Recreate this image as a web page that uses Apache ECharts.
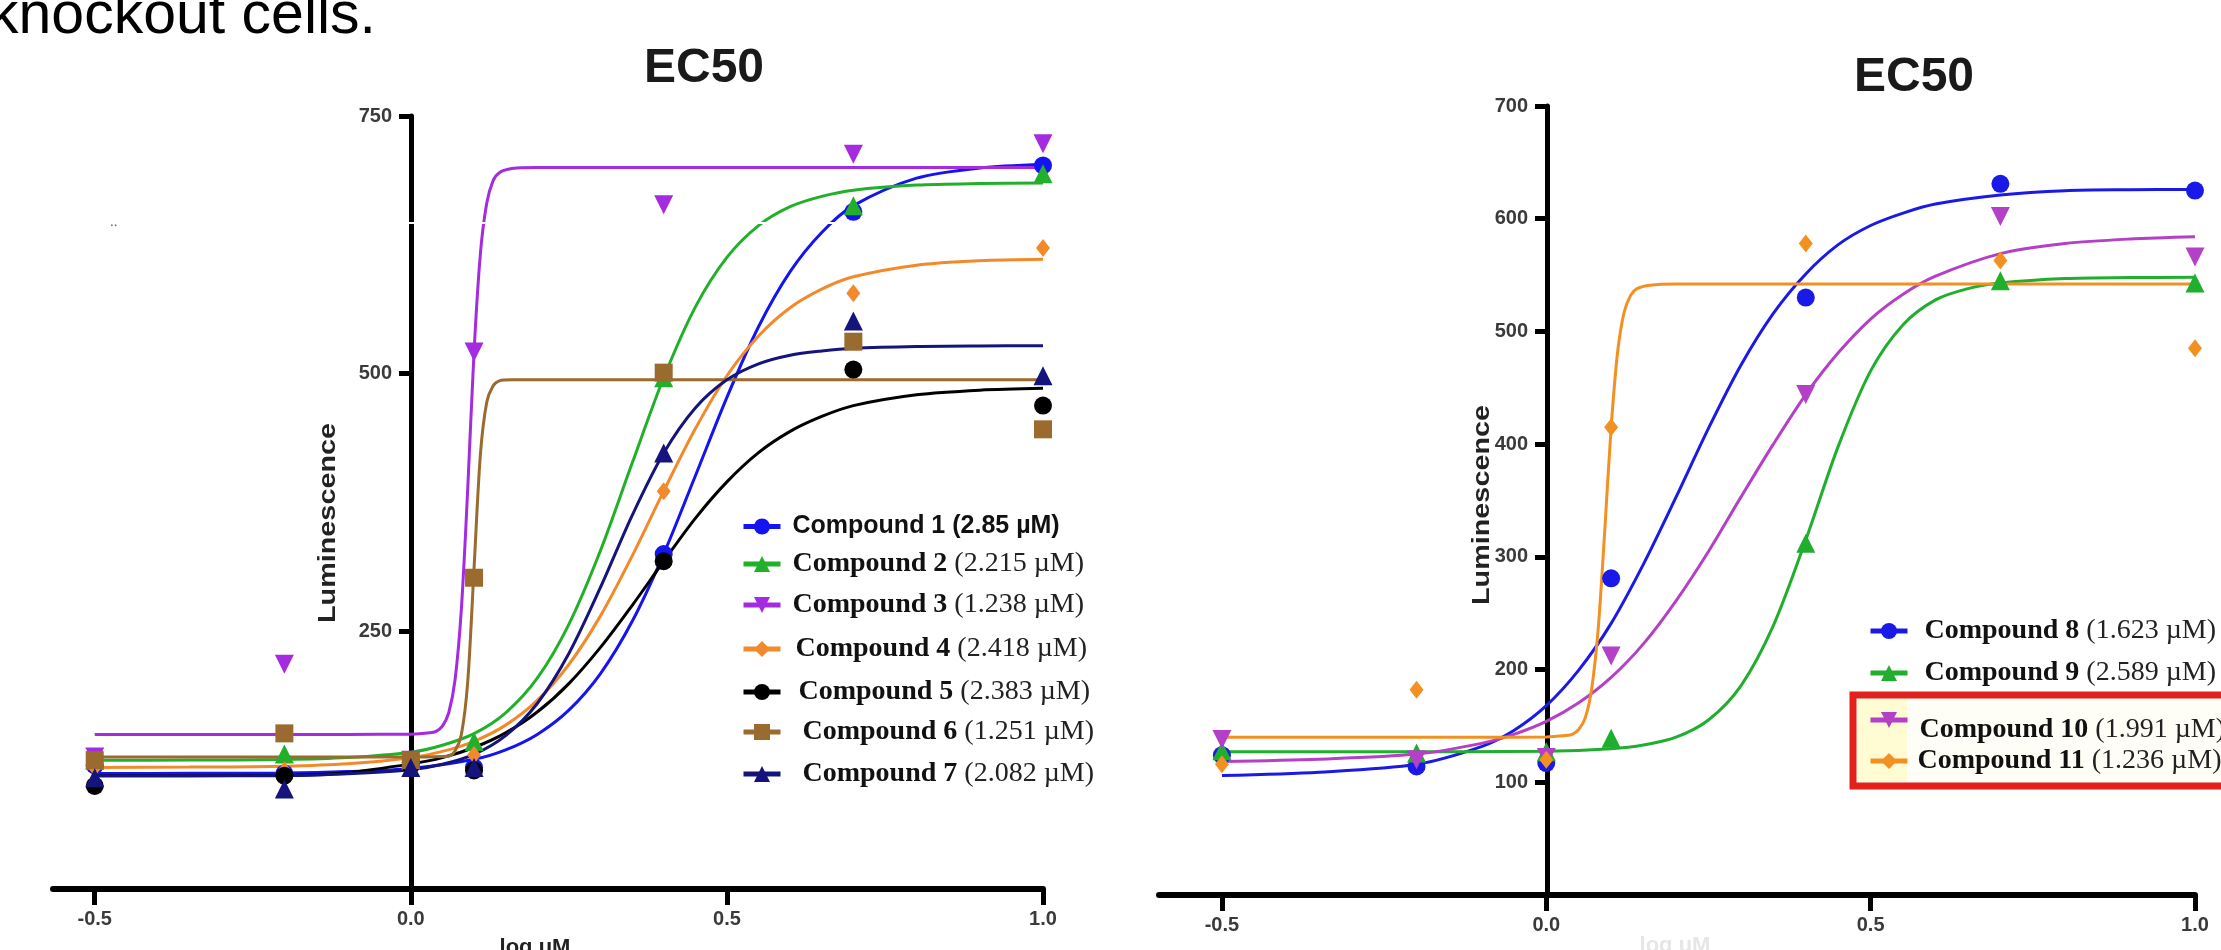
<!DOCTYPE html>
<html><head><meta charset="utf-8">
<script src="https://cdn.jsdelivr.net/npm/echarts@6/dist/echarts.min.js"></script>
<style>html,body{margin:0;padding:0;background:#fff}#c{width:2221px;height:950px}</style>
</head><body><div id="c"></div>
<script>
// ---------- data ----------
const doseX = [-0.5, -0.2, 0, 0.1, 0.4, 0.7, 1.0];
const xTicks = [-0.5, 0, 0.5, 1.0];
const leftYTicks = [250, 500, 750];
const rightYTicks = [100, 200, 300, 400, 500, 600, 700];

const leftNames = ['Compound 1', 'Compound 2', 'Compound 3', 'Compound 4', 'Compound 5', 'Compound 6', 'Compound 7'];
const leftEC50 = ['2.85', '2.215', '1.238', '2.418', '2.383', '1.251', '2.082'];
const rightNames = ['Compound 8', 'Compound 9', 'Compound 10', 'Compound 11'];
const rightEC50 = ['1.623', '2.589', '1.991', '1.236'];

// measured points (y at doseX)
const pts1 = [120, 112, 123, 118, 325, 657, 702];
const pts2 = [125, 131, 125, 143, 496, 663, 694];
const pts3 = [128, 218, 125, 521, 664, 713, 723];
const pts4 = [118, 115, 125, 130, 386, 578, 622];
const pts5 = [100, 110, 120, 115, 318, 504, 469];
const pts6 = [125, 151, 125, 302, 501, 531, 446];
const pts7 = [108, 97, 118, 118, 423, 551, 498];
const pts8 = [124, 114, 117, 281, 530, 631, 625];
const pts9 = [128, 126, 127, 139, 312, 545, 543];
const pts10 = [138, 120, 122, 212, 444, 602, 566];
const pts11 = [116, 182, 120, 415, 578, 563, 485];

// fitted curves: [logX, luminescence]
const curve1 = [[-0.5,112],[-0.35,112.2],[-0.2,112.6],[-0.1,114],[0,116.9],[0.1,125.8],[0.15,135],[0.2,150],[0.25,173.5],[0.3,209],[0.35,259.5],[0.4,325],[0.45,400.7],[0.5,477],[0.55,545.5],[0.6,599],[0.65,637],[0.7,663],[0.8,689.7],[0.9,699.6],[1.0,703]];
const curve2 = [[-0.5,125],[-0.35,125.1],[-0.2,125.6],[-0.1,127.5],[0,132.7],[0.05,139.5],[0.1,150.7],[0.15,170.9],[0.2,204.5],[0.25,256.8],[0.3,328.4],[0.35,413],[0.4,496],[0.45,564.6],[0.5,612.8],[0.55,643.7],[0.6,662],[0.65,672],[0.7,678],[0.8,683],[0.9,684.5],[1.0,685]];
const curve3 = [[-0.5,150],[-0.3,150],[-0.1,150],[0,150.2],[0.03,151.5],[0.04,153],[0.05,158],[0.06,171],[0.07,203],[0.08,272],[0.09,388],[0.1,521],[0.11,616],[0.12,665],[0.13,687],[0.14,695],[0.16,699],[0.2,700],[0.4,700],[0.7,700],[1.0,700]];
const curve4 = [[-0.5,118],[-0.35,118.3],[-0.2,119.2],[-0.1,121.5],[0,127.4],[0.05,133.5],[0.1,143.3],[0.15,159],[0.2,183],[0.25,217.8],[0.3,265],[0.35,323],[0.4,386],[0.45,446.5],[0.5,498],[0.55,536.6],[0.6,564],[0.65,582],[0.7,594],[0.8,605.3],[0.9,609.6],[1.0,611]];
const curve5 = [[-0.5,110],[-0.35,110],[-0.2,110.2],[-0.1,113],[0,121.4],[0.05,127.5],[0.1,137.3],[0.15,151.5],[0.2,171.7],[0.25,199.3],[0.3,234.4],[0.35,275],[0.4,318],[0.45,359.6],[0.5,395],[0.55,423.4],[0.6,444],[0.65,458.5],[0.7,469],[0.8,479.5],[0.9,484],[1.0,485.8]];
const curve6 = [[-0.5,128],[-0.3,128],[-0.1,128],[0,128],[0.05,128.5],[0.06,129],[0.07,134],[0.08,150],[0.09,201],[0.1,311],[0.11,421],[0.12,472],[0.13,488],[0.14,493],[0.16,494],[0.2,494],[0.4,494],[0.7,494],[1.0,494]];
const curve7 = [[-0.5,110],[-0.35,110],[-0.2,110],[-0.1,111.8],[0,115.6],[0.05,121],[0.1,130.6],[0.15,148.8],[0.2,180],[0.25,228.5],[0.3,292.6],[0.35,362.3],[0.4,423],[0.45,466.7],[0.5,494],[0.55,509.5],[0.6,517.9],[0.65,522],[0.7,524.6],[0.8,526.4],[0.9,526.9],[1.0,527]];
const curve8 = [[-0.5,106],[-0.35,109],[-0.2,116],[-0.1,131.7],[-0.05,146],[0,168],[0.05,199.5],[0.1,241],[0.15,293.8],[0.2,353],[0.25,414],[0.3,470],[0.35,516],[0.4,551],[0.45,577],[0.5,594],[0.55,605],[0.6,613],[0.7,621],[0.8,624.9],[0.9,625.7],[1.0,626]];
const curve9 = [[-0.5,127],[-0.25,127],[0,127.5],[0.1,129.7],[0.15,133],[0.2,140],[0.25,155.3],[0.3,185.6],[0.35,239],[0.4,315],[0.45,398],[0.5,465],[0.55,506],[0.6,528],[0.65,538],[0.7,543],[0.8,547],[0.9,547.8],[1.0,548]];
const curve10 = [[-0.5,118.5],[-0.35,120.5],[-0.2,125],[-0.1,134.5],[-0.05,142.5],[0,154],[0.05,170.5],[0.1,193],[0.15,223],[0.2,261],[0.25,304.8],[0.3,353],[0.35,400],[0.4,444],[0.45,481],[0.5,511],[0.55,533],[0.6,549],[0.7,569],[0.8,578],[0.9,582],[1.0,584]];
const curve11 = [[-0.5,140],[-0.3,140],[-0.1,140],[0,140.2],[0.03,141.5],[0.04,142.6],[0.05,146.8],[0.06,157],[0.07,183],[0.08,236],[0.09,322],[0.1,415],[0.11,482],[0.12,517],[0.13,532],[0.14,538],[0.16,541],[0.2,542],[0.4,542],[0.7,542],[1.0,542]];

// ---------- styles ----------
const leftColors = ['#1414f0', '#22b02a', '#a42be0', '#f28a2c', '#000000', '#9b6a2e', '#14147c'];
const rightColors = ['#1a1ae8', '#1fae2d', '#b340c6', '#f39022'];
const leftSymbols = ['circle', 'triangle', 'triangle', 'diamond', 'circle', 'rect', 'triangle'];
const leftRot = [0, 0, 180, 0, 0, 0, 0];
const rightSymbols = ['circle', 'triangle', 'triangle', 'diamond'];
const rightRot = [0, 0, 180, 0];
const symSize = { circle: 18, triangle: 19, diamond: [14, 18], rect: 18 };

const leftPts = [pts1, pts2, pts3, pts4, pts5, pts6, pts7];
const leftCurves = [curve1, curve2, curve3, curve4, curve5, curve6, curve7];
const rightPts = [pts8, pts9, pts10, pts11];
const rightCurves = [curve8, curve9, curve10, curve11];

const serifFont = "'Liberation Serif', 'Times New Roman', serif";
const sansFont = "'Liberation Sans', Arial, sans-serif";

function buildSeries(names, curves, pts, colors, symbols, rots, axisIdx) {
  const lines = names.map((n, i) => ({
    type: 'line', name: n, xAxisIndex: axisIdx, yAxisIndex: axisIdx,
    data: curves[i], smooth: 0.3, showSymbol: false,
    symbol: symbols[i], symbolRotate: rots[i], clip: false, z: 2,
    color: colors[i], lineStyle: { width: 3, color: colors[i] }, itemStyle: { color: colors[i] },
    emphasis: { disabled: true }, silent: true, animation: false
  }));
  const scat = names.map((n, i) => ({
    type: 'scatter', name: n, xAxisIndex: axisIdx, yAxisIndex: axisIdx,
    data: doseX.map((x, k) => [x, pts[i][k]]),
    symbol: symbols[i], symbolRotate: rots[i], symbolSize: symSize[symbols[i]],
    itemStyle: { color: colors[i], opacity: 1 }, clip: false, z: 3,
    emphasis: { disabled: true }, silent: true, animation: false
  }));
  return lines.concat(scat);
}

// legend rows
const leftLegRows = [529, 565, 606, 650, 693, 733, 775];
const leftLegPad = [7, 7, 7, 10, 13, 17, 17];
const rightLegRows = [632, 674, 737, 762];
const rightLegTextShift = [0, 0, 20, 0];
const rightLegPad = [12, 12, 7, 5];

const rich = {
  s: { fontFamily: sansFont, fontWeight: 'bold', fontSize: 25, color: '#111', lineHeight: 30 },
  b: { fontFamily: serifFont, fontWeight: 'bold', fontSize: 28, color: '#111', lineHeight: 30 },
  r: { fontFamily: serifFont, fontWeight: 'normal', fontSize: 28, color: '#222', lineHeight: 30 }
};

function legendFor(name, ec, left, center, padL, shift, sans) {
  return {
    data: [name], left: left, top: center - 15 - shift / 2, orient: 'vertical', padding: 0,
    itemWidth: 37, itemHeight: 20, selectedMode: false,
    lineStyle: { width: 5 },
    formatter: () => sans ? '{s|' + name + ' (' + ec + ' \u00b5M)}' : '{b|' + name + ' }{r|(' + ec + ' \u00b5M)}',
    textStyle: { rich: rich, padding: [shift, 0, 0, padL] }
  };
}

const legends = [];
leftNames.forEach((n, i) => legends.push(legendFor(n, leftEC50[i], 741, leftLegRows[i], leftLegPad[i], 0, i === 0)));
rightNames.forEach((n, i) => legends.push(legendFor(n, rightEC50[i], 1868, rightLegRows[i], rightLegPad[i], rightLegTextShift[i], false)));

function xAxisCfg(gi, min) {
  return {
    type: 'value', gridIndex: gi, min: min, max: 1.0,
    axisLine: { show: true, onZero: true, lineStyle: { color: '#000', width: 6 } },
    axisTick: { show: true, customValues: xTicks, length: 16, lineStyle: { color: '#000', width: 5 } },
    axisLabel: { customValues: xTicks, margin: 20, formatter: v => v.toFixed(1),
      fontFamily: sansFont, fontWeight: 'bold', fontSize: 20, color: '#3a3a3a' },
    splitLine: { show: false }
  };
}
function yAxisCfg(gi, max, ticks, offset) {
  return {
    type: 'value', gridIndex: gi, min: 0, max: max, offset: offset,
    axisLine: { show: true, onZero: false, lineStyle: { color: '#000', width: 5 } },
    axisTick: { show: true, customValues: ticks, length: 12, lineStyle: { color: '#000', width: 5 } },
    axisLabel: { customValues: ticks, margin: 19,
      fontFamily: sansFont, fontWeight: 'bold', fontSize: 20, color: '#3a3a3a' },
    splitLine: { show: false }
  };
}

const chart = echarts.init(document.getElementById('c'), null, { renderer: 'canvas' });
chart.setOption({
  backgroundColor: '#ffffff',
  animation: false,
  grid: [
    { left: 53, top: 116, width: 990, height: 773 },
    { left: 1159, top: 106, width: 1036, height: 789 }
  ],
  xAxis: [xAxisCfg(0, -0.566), xAxisCfg(1, -0.597)],
  yAxis: [yAxisCfg(0, 750, leftYTicks, -358), yAxisCfg(1, 700, rightYTicks, -388)],
  legend: legends,
  series: buildSeries(leftNames, leftCurves, leftPts, leftColors, leftSymbols, leftRot, 0)
    .concat(buildSeries(rightNames, rightCurves, rightPts, rightColors, rightSymbols, rightRot, 1)),
  graphic: [
    { type: 'text', x: 376, y: 17, z: 10,
      style: { text: 'knockout cells.', fontFamily: sansFont, fontSize: 59, fill: '#000', align: 'right', verticalAlign: 'middle' } },
    { type: 'text', x: 704, y: 69, z: 10,
      style: { text: 'EC50', fontFamily: sansFont, fontWeight: 'bold', fontSize: 48, fill: '#1a1a1a', align: 'center', verticalAlign: 'middle' } },
    { type: 'text', x: 1914, y: 78, z: 10,
      style: { text: 'EC50', fontFamily: sansFont, fontWeight: 'bold', fontSize: 48, fill: '#1a1a1a', align: 'center', verticalAlign: 'middle' } },
    { type: 'text', x: 328, y: 523, rotation: Math.PI / 2, scaleX: 1.2, z: 10,
      style: { text: 'Luminescence', fontFamily: sansFont, fontWeight: 'bold', fontSize: 24, fill: '#222', align: 'center', verticalAlign: 'middle' } },
    { type: 'text', x: 1482, y: 505, rotation: Math.PI / 2, scaleX: 1.2, z: 10,
      style: { text: 'Luminescence', fontFamily: sansFont, fontWeight: 'bold', fontSize: 24, fill: '#222', align: 'center', verticalAlign: 'middle' } },
    { type: 'text', x: 535, y: 937, z: 10,
      style: { text: 'log uM', fontFamily: sansFont, fontWeight: 'bold', fontSize: 22, fill: '#222', align: 'center', verticalAlign: 'top' } },
    { type: 'text', x: 1675, y: 935, z: 10,
      style: { text: 'log uM', fontFamily: sansFont, fontWeight: 'bold', fontSize: 22, fill: '#e6e6e6', align: 'center', verticalAlign: 'top' } },
    { type: 'rect', z: 20, shape: { x: 398, y: 222, width: 444, height: 2 }, style: { fill: '#ffffff' } },
    { type: 'text', x: 110, y: 222, z: 10,
      style: { text: '\u2025', fontFamily: sansFont, fontSize: 14, fill: '#777', align: 'left', verticalAlign: 'middle' } },
    { type: 'rect', z: 0, shape: { x: 1853, y: 695, width: 400, height: 91 },
      style: { fill: '#fffef6', stroke: '#e2211c', lineWidth: 7 } },
    { type: 'rect', z: 1, shape: { x: 1857, y: 699, width: 50, height: 83 },
      style: { fill: '#fffbd2' } }
  ]
});
</script>
</body></html>
